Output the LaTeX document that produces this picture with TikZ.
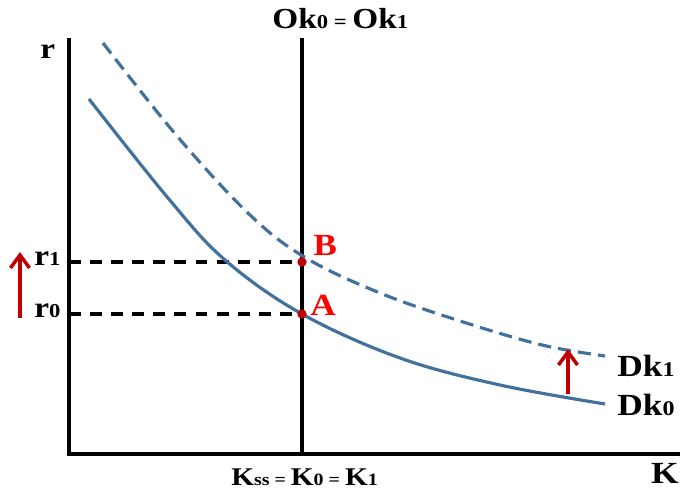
\documentclass[tikz,border=0pt]{standalone}
\usepackage{fontspec}
\setmainfont{Liberation Serif}[FakeStretch=1.15]
\usetikzlibrary{arrows.meta}
\definecolor{curveblue}{HTML}{41719C}
\definecolor{darkred}{HTML}{C00000}
\newcommand{\smallpart}[1]{\scalebox{0.68}{#1}}
\begin{document}
\begin{tikzpicture}[x=0.02cm,y=-0.02cm,
  axis/.style={line width=2pt},
  guide/.style={line width=2pt, dash pattern=on 6.8pt off 5.2pt},
  dkzero/.style={curveblue,line width=1.8pt},
  dkone/.style={curveblue,line width=1.8pt,dash pattern=on 7.5pt off 4pt},
  dot/.style={circle,fill=darkred,inner sep=0pt,minimum size=0.18cm},
  uparrow/.style={darkred,line width=2pt,-{Straight Barb[length=2.6mm,width=3.8mm]}},
  lbl/.style={inner sep=0pt,font=\fontsize{16.5}{16.5}\selectfont\bfseries},
  biglbl/.style={inner sep=0pt,font=\fontsize{17.5}{17.5}\selectfont\bfseries},
  redlbl/.style={biglbl,red}]
\path[use as bounding box] (0,0) rectangle (680,493);
% axes
\coordinate (O) at (69,454);
\coordinate (ytop) at (69,38);
\coordinate (xend) at (680,454);
\draw[axis] (ytop) -- (O) -- (xend);
% vertical supply line
\coordinate (oktop) at (302,38);
\coordinate (okbot) at (302,454);
\draw[axis] (oktop) -- (okbot);
% points
\node[dot] (A) at (302,314) {};
\node[dot] (B) at (302,262) {};
\coordinate (r1y) at (69,262);
\coordinate (r0y) at (69,314);
\draw[guide] (r1y) -- (B.center);
\draw[guide] (r0y) -- (A.center);
% demand curves
\draw[dkzero] plot[smooth,tension=0.6] coordinates {(89,99) (168,198) (225,260) (302,314) (400,358) (500,385) (605,404)};
\draw[dkone] plot[smooth,tension=0.6] coordinates {(103,43) (177,136) (250,215) (306,258) (380,293) (460,321) (542,345) (605,356)};
% redraw dots on top
\node[dot] at (A) {};
\node[dot] at (B) {};
% arrows
\coordinate (la0) at (20,318);
\coordinate (la1) at (20,252);
\draw[uparrow] (la0) -- (la1);
\coordinate (ra0) at (568,394);
\coordinate (ra1) at (568,349);
\draw[uparrow] (ra0) -- (ra1);
% labels
\node[lbl,anchor=base west] (oklbl) at (272,29) {Ok\smallpart{0 = }Ok\smallpart{1}};
\node[lbl,anchor=base west] (rlbl) at (40,59) {r};
\node[lbl,anchor=base west] (ronelbl) at (34,266) {r\smallpart{1}};
\node[lbl,anchor=base west] (rzerolbl) at (34,318) {r\smallpart{0}};
\node[lbl,font=\fontsize{14.5}{14.5}\selectfont\bfseries,anchor=base west] (klbl) at (231,485) {K\smallpart{ss = }K\smallpart{0 = }K\smallpart{1}};
\node[biglbl,anchor=base east] (kaxis) at (679,483) {K};
\node[biglbl,anchor=base west] (dkonelbl) at (617,377) {Dk\smallpart{1}};
\node[biglbl,anchor=base west] (dkzerolbl) at (617,416) {Dk\smallpart{0}};
\node[redlbl,anchor=base west] (blbl) at (313,256) {B};
\node[redlbl,anchor=base west] (albl) at (310,316) {A};
\end{tikzpicture}
\end{document}
